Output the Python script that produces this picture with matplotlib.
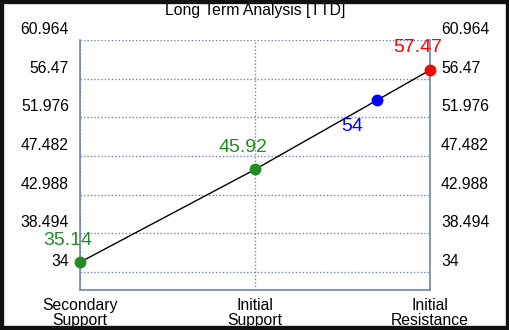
import matplotlib.pyplot as plt
from matplotlib.patches import Rectangle
from matplotlib.transforms import ScaledTranslation

plt.rcParams['font.family'] = ['Liberation Sans', 'DejaVu Sans']

# data
categories = ['Secondary\nSupport', 'Initial\nSupport', 'Initial\nResistance']
point_x = [0, 1, 1.7, 2]
point_y = [35.14, 45.92, 54, 57.47]
point_labels = ['35.14', '45.92', '54', '57.47']
point_colors = ['#228B22', '#228B22', '#0000FF', '#FF0000']
label_offsets = [(-12, 22), (-12, 22), (-25, -27), (-12, 23)]  # pixels
yticks = [34, 38.494, 42.988, 47.482, 51.976, 56.47, 60.964]
ytick_labels = ['34', '38.494', '42.988', '47.482', '51.976', '56.47', '60.964']

fig = plt.figure(figsize=(5.1, 3.3), dpi=100)
fig.patch.set_facecolor('white')
ax = fig.add_axes([80 / 510, 40 / 330, 350 / 510, 250 / 330])

ax.plot(point_x, point_y, color='black', linewidth=1, zorder=3)
for x, y, c in zip(point_x, point_y, point_colors):
    ax.plot(x, y, 'o', color=c, markersize=7.5, zorder=4, clip_on=False)
for x, y, t, c, (dx, dy) in zip(point_x, point_y, point_labels, point_colors, label_offsets):
    ax.annotate(t, (x, y), xytext=(dx * 0.72, dy * 0.72), textcoords='offset points',
                ha='center', va='center', color=c, fontsize=14)

ax.set_xlim(0, 2)
ax.set_ylim(31.91, 60.964)
ax.set_xticks([0, 1, 2])
ax.set_xticklabels(categories, fontsize=11.3, linespacing=0.95)
ax.set_yticks(yticks)
ax.set_yticklabels(ytick_labels, fontsize=11.3)
ax.tick_params(axis='y', length=0, pad=8, labelright=True, right=False)
ax.tick_params(axis='x', length=0, pad=6)

# labels sit a bit above their grid lines
offset = ScaledTranslation(0, 12 / 100, fig.dpi_scale_trans)
for tick in ax.yaxis.get_major_ticks():
    tick.label1.set_transform(tick.label1.get_transform() + offset)
    tick.label2.set_transform(tick.label2.get_transform() + offset)

ax.grid(True, color='#6F87A8', linestyle=(0, (1, 1.5)), linewidth=1)
ax.spines['top'].set_visible(False)
for s in ['left', 'right', 'bottom']:
    ax.spines[s].set_color('#6F87A8')
    ax.spines[s].set_linewidth(1.2)

fig.text(255 / 510, 1 - 10 / 330, 'Long Term Analysis [TTD]', ha='center', va='center', fontsize=11.3)

fig.patches.append(Rectangle((0, 0), 1, 1, transform=fig.transFigure, fill=False,
                             edgecolor='#111111', linewidth=6, zorder=10))

fig.savefig('out.png', dpi=100)
